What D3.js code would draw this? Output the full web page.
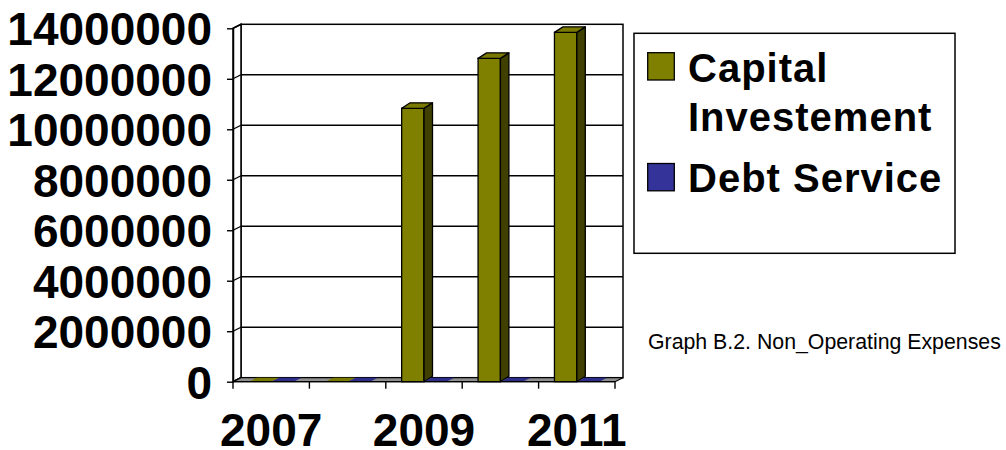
<!DOCTYPE html>
<html>
<head>
<meta charset="utf-8">
<script src="https://cdn.jsdelivr.net/npm/d3@7"></script>
<style>
  body { margin: 0; background: #fff; }
  svg { display: block; }
  text { font-family: "Liberation Sans", Arial, Helvetica, sans-serif; }
</style>
</head>
<body>
<script>
// Non-operating expenses by year
const years = ["2007", "2008", "2009", "2010", "2011"];
const labelYears = ["2007", "2009", "2011"];
const seriesNames = ["Capital Investement", "Debt Service"];
const capitalInvestment = [0, 0, 10830000, 12810000, 13840000];
const debtService = [0, 0, 0, 0, 0];
const yTickValues = [0, 2000000, 4000000, 6000000, 8000000, 10000000, 12000000, 14000000];
const caption = "Graph B.2. Non_Operating Expenses";

const seriesValues = [capitalInvestment, debtService];
const seriesFront = ["#808000", "#333399"];
const seriesSide = ["#404000", "#1a1a4d"];
const seriesTop = ["#7a7a00", "#2e2e8a"];

const W = 1006, H = 450;
const svg = d3.select("body").append("svg").attr("width", W).attr("height", H);

// front plane scales
const x0 = d3.scaleBand().domain(years).range([233, 615]);
const x1 = d3.scaleBand().domain(seriesNames).range([0, x0.bandwidth()])
  .paddingInner(0).paddingOuter(0.71);
const y = d3.scaleLinear().domain([0, 14000000]).range([381.7, 28.3]);

// oblique offset of the back plane (walls) and of the bar depth
const wall = { dx: 8, dy: -4 };
const barDepth = v => v > 0 ? { dx: 8.5, dy: -5.5 } : { dx: 8, dy: -4 };

const [xL, xR] = x0.range();
const yMax = y.domain()[1];
const pts = a => a.map(p => p.join(",")).join(" ");

// back wall
const g = svg.append("g");
g.append("rect")
  .attr("x", xL + wall.dx).attr("y", y(yMax) + wall.dy)
  .attr("width", xR - xL).attr("height", y(0) - y(yMax))
  .attr("fill", "#fff").attr("stroke", "#000").attr("stroke-width", 1.5);

// horizontal gridlines on the back wall
g.selectAll("line.grid").data(yTickValues.filter(v => v > 0 && v < yMax)).join("line")
  .attr("class", "grid")
  .attr("x1", xL + wall.dx).attr("x2", xR + wall.dx)
  .attr("y1", d => y(d) + wall.dy).attr("y2", d => y(d) + wall.dy)
  .attr("stroke", "#000").attr("stroke-width", 1.4);

// left side wall
g.append("polygon")
  .attr("points", pts([[xL, y(0)], [xL + wall.dx, y(0) + wall.dy],
                       [xL + wall.dx, y(yMax) + wall.dy], [xL, y(yMax)]]))
  .attr("fill", "#fff").attr("stroke", "#000").attr("stroke-width", 1.5);
g.selectAll("line.side").data(yTickValues).join("line")
  .attr("class", "side")
  .attr("x1", xL).attr("x2", xL + wall.dx)
  .attr("y1", d => y(d)).attr("y2", d => y(d) + wall.dy)
  .attr("stroke", "#000").attr("stroke-width", 1.3);

// floor
g.append("polygon")
  .attr("points", pts([[xL, y(0)], [xR, y(0)], [xR + wall.dx, y(0) + wall.dy], [xL + wall.dx, y(0) + wall.dy]]))
  .attr("fill", "#8f8f8f").attr("stroke", "#000").attr("stroke-width", 1.2);

// 3D columns
const bars = [];
years.forEach((yr, i) => {
  seriesNames.forEach((s, k) => {
    bars.push({ year: yr, series: k, name: s, value: seriesValues[k][i] });
  });
});
const barG = svg.append("g");
bars.forEach(b => {
  const xa = x0(b.year) + x1(b.name);
  const xb = xa + x1.bandwidth();
  const y0 = y(0), yt = y(b.value);
  const d = barDepth(b.value);
  const gb = barG.append("g");
  if (b.value > 0) {
    gb.append("rect")
      .attr("x", xa).attr("y", yt).attr("width", xb - xa).attr("height", y0 - yt)
      .attr("fill", seriesFront[b.series]).attr("stroke", "#000").attr("stroke-width", 1.3);
    gb.append("polygon")
      .attr("points", pts([[xb, y0], [xb + d.dx, y0 + d.dy], [xb + d.dx, yt + d.dy], [xb, yt]]))
      .attr("fill", seriesSide[b.series]).attr("stroke", "#000").attr("stroke-width", 1.3)
      .attr("stroke-linejoin", "round");
    gb.append("polygon")
      .attr("points", pts([[xa, yt], [xb, yt], [xb + d.dx, yt + d.dy], [xa + d.dx, yt + d.dy]]))
      .attr("fill", seriesTop[b.series]).attr("stroke", "#000").attr("stroke-width", 1.3)
      .attr("stroke-linejoin", "round");
  } else {
    // zero-height column: only its flat top lies on the floor
    gb.append("polygon")
      .attr("points", pts([[xa, yt], [xb, yt], [xb + d.dx, yt + d.dy], [xa + d.dx, yt + d.dy]]))
      .attr("fill", seriesTop[b.series]);
  }
});

// redraw the front floor edge over the flat tops
svg.append("line")
  .attr("x1", xL).attr("x2", xR).attr("y1", y(0)).attr("y2", y(0))
  .attr("stroke", "#000").attr("stroke-width", 1.3);

// value axis
const yAxis = d3.axisLeft(y).tickValues(yTickValues).tickFormat(d3.format("d"))
  .tickSize(6).tickSizeOuter(0).tickPadding(15);
const ya = svg.append("g").attr("transform", `translate(${xL},0)`).call(yAxis);
ya.select(".domain").attr("stroke", "#000").attr("stroke-width", 1.5);
ya.selectAll(".tick line").attr("stroke", "#000").attr("stroke-width", 1.4);
ya.selectAll(".tick text")
  .attr("fill", "#000").attr("dy", "0.36em")
  .style("font-size", "46px").style("font-weight", "bold")
  .style("font-family", "'Liberation Sans', Arial, sans-serif");

// category axis: tick marks at category boundaries, labels on every other year
const boundaries = years.map(d => x0(d)).concat([xR]);
svg.append("g").selectAll("line").data(boundaries).join("line")
  .attr("x1", d => d).attr("x2", d => d)
  .attr("y1", y(0)).attr("y2", y(0) + 7)
  .attr("stroke", "#000").attr("stroke-width", 1.4);

const xAxis = d3.axisBottom(x0).tickValues(labelYears).tickSize(0).tickPadding(31.5);
const xa = svg.append("g").attr("transform", `translate(0,${y(0)})`).call(xAxis);
xa.select(".domain").remove();
xa.selectAll(".tick text")
  .attr("fill", "#000")
  .style("font-size", "46px").style("font-weight", "bold")
  .style("font-family", "'Liberation Sans', Arial, sans-serif");

// legend
const lg = svg.append("g");
lg.append("rect")
  .attr("x", 634).attr("y", 33.3).attr("width", 321).attr("height", 220)
  .attr("fill", "#fff").attr("stroke", "#000").attr("stroke-width", 1.5);
const legendRows = [
  { lines: ["Capital", "Investement"], swatchY: 52.7, baseY: 81.7 },
  { lines: ["Debt Service"], swatchY: 163.5, baseY: 191.7 }
];
legendRows.forEach((r, k) => {
  lg.append("rect")
    .attr("x", 647.7).attr("y", r.swatchY).attr("width", 26.6).attr("height", 27.3)
    .attr("fill", seriesFront[k]).attr("stroke", "#000").attr("stroke-width", 1.3);
  r.lines.forEach((t, j) => {
    lg.append("text")
      .attr("x", 688).attr("y", r.baseY + j * 49)
      .style("font-size", "40px").style("font-weight", "bold")
      .style("letter-spacing", "1px")
      .attr("fill", "#000")
      .text(t);
  });
});

// caption
svg.append("text")
  .attr("x", 648).attr("y", 349)
  .style("font-size", "21.3px")
  .attr("fill", "#000")
  .text(caption);
</script>
</body>
</html>
